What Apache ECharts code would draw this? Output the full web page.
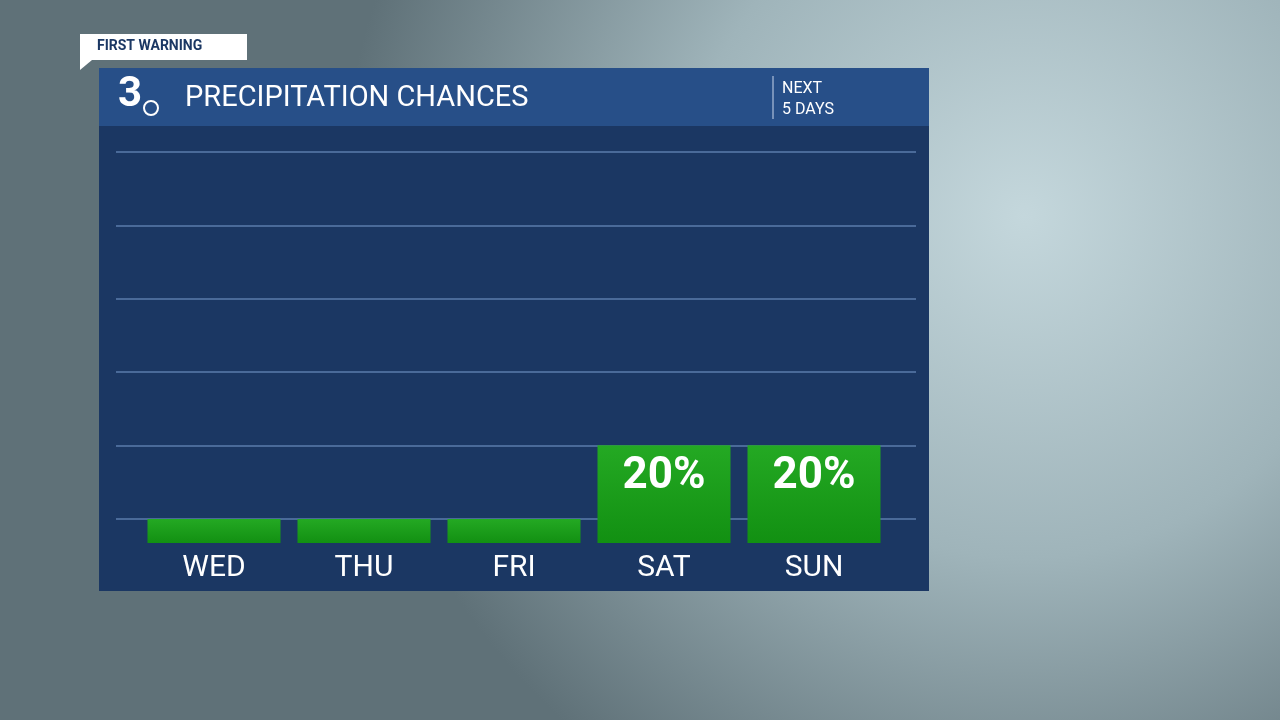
<!DOCTYPE html>
<html lang="en">
<head>
<meta charset="UTF-8">
<title>Precipitation Chances</title>
<script src="https://cdn.jsdelivr.net/npm/echarts@6/dist/echarts.min.js"></script>
<style>
  html, body { margin: 0; padding: 0; }
  #chart { width: 1280px; height: 720px; }
</style>
</head>
<body>
<div id="chart"></div>
<script>
var days = ['WED', 'THU', 'FRI', 'SAT', 'SUN'];
var chances = [0, 0, 0, 20, 20];
var gridTicks = [5, 80, 15]; // min, max, interval of the guide lines

var myChart = echarts.init(document.getElementById('chart'));
var font = 'Roboto, Noto Sans, sans-serif';

var option = {
    backgroundColor: {
        type: 'radial', x: 0.8, y: 0.3, r: 0.95,
        colorStops: [
            {offset: 0, color: '#c4d7dc'},
            {offset: 0.5, color: '#9fb4ba'},
            {offset: 1, color: '#5f7178'}
        ]
    },
    graphic: [
        {type: 'rect', shape: {x: 99, y: 68, width: 830, height: 523}, style: {fill: '#1b3763'}, z: 0},
        {type: 'rect', shape: {x: 99, y: 68, width: 830, height: 58}, style: {fill: '#274f88'}, z: 1},
        {type: 'text', left: 118, top: 74, style: {text: '3', fill: '#fff', font: 'bold 42px ' + font}, z: 2},
        {type: 'circle', shape: {cx: 151, cy: 108, r: 7}, style: {fill: '#274f88', stroke: '#fff', lineWidth: 2}, z: 3},
        {type: 'text', left: 185, top: 84, style: {text: 'PRECIPITATION CHANCES', fill: '#fff', font: '29px ' + font}, z: 2},
        {type: 'line', shape: {x1: 773, y1: 76, x2: 773, y2: 119}, style: {stroke: '#c9d6ea', lineWidth: 1}, z: 2},
        {type: 'text', left: 782, top: 78, style: {text: 'NEXT\n5 DAYS', fill: '#fff', font: '16px ' + font, lineHeight: 21}, z: 2},
        {type: 'rect', shape: {x: 80, y: 34, width: 167, height: 26}, style: {fill: '#ffffff'}, z: 2},
        {type: 'polygon', shape: {points: [[80, 60], [92, 60], [80, 70]]}, style: {fill: '#ffffff'}, z: 2},
        {type: 'text', left: 97, top: 39, style: {text: 'FIRST WARNING', fill: '#1b3763', font: 'bold 14px ' + font}, z: 3}
    ],
    grid: [
        {left: 139, right: 391, top: 152, bottom: 177},
        {left: 116, right: 364, top: 152, bottom: 201}
    ],
    xAxis: [
        {
            type: 'category', data: days, gridIndex: 0,
            axisLine: {show: false}, axisTick: {show: false},
            axisLabel: {color: '#fff', fontSize: 30, fontFamily: font, margin: 10}
        },
        {type: 'category', gridIndex: 1, show: false, data: days}
    ],
    yAxis: [
        {type: 'value', gridIndex: 0, min: 0, max: 80, show: false, splitLine: {show: false}},
        {
            type: 'value', gridIndex: 1,
            min: gridTicks[0], max: gridTicks[1], interval: gridTicks[2],
            axisLabel: {show: false}, axisLine: {show: false}, axisTick: {show: false},
            splitLine: {lineStyle: {color: '#4a6a99', width: 2}}
        }
    ],
    series: [{
        type: 'bar',
        data: chances,
        xAxisIndex: 0, yAxisIndex: 0,
        barWidth: 133,
        barMinHeight: 24,
        z: 5,
        itemStyle: {
            color: {
                type: 'linear', x: 0, y: 0, x2: 0, y2: 1,
                colorStops: [{offset: 0, color: '#24a923'}, {offset: 1, color: '#129012'}]
            }
        },
        label: {
            show: true, position: 'insideTop', distance: 10,
            color: '#fff', fontSize: 44, fontWeight: 'bold', fontFamily: font,
            formatter: function (p) { return p.value > 0 ? p.value + '%' : ''; }
        }
    }]
};
myChart.setOption(option);
</script>
</body>
</html>
